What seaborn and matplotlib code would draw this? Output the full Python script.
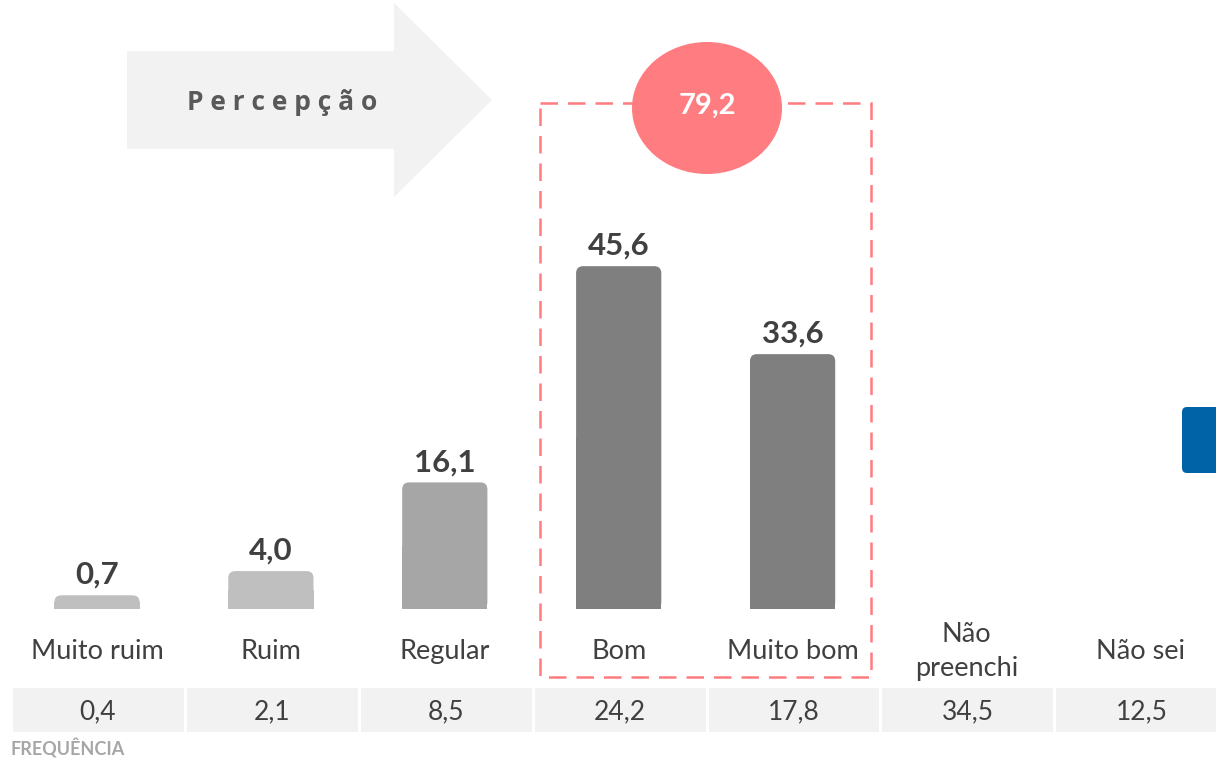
import numpy as np
import pandas as pd
import matplotlib
matplotlib.use("Agg")
import matplotlib.pyplot as plt
import seaborn as sns
from matplotlib.patches import FancyBboxPatch, Rectangle, Polygon, Ellipse
from matplotlib.colors import ListedColormap

# dados
categories = ["Muito ruim", "Ruim", "Regular", "Bom", "Muito bom", "Não\npreenchi", "Não sei"]
percepcao = [0.7, 4.0, 16.1, 45.6, 33.6, np.nan, np.nan]
frequencia = [0.4, 2.1, 8.5, 24.2, 17.8, 34.5, 12.5]
bar_colors = ["#bfbfbf", "#bfbfbf", "#a6a6a6", "#7f7f7f", "#7f7f7f", "#7f7f7f", "#7f7f7f"]
destaque = ["Bom", "Muito bom"]

W, H = 1216, 761
COL_W = 173.9      # largura de cada coluna em px
X0 = 97            # centro da primeira coluna em px
BASE_PX = 609      # linha de base das barras (px a partir do topo)
PX_PER_UNIT = 7.33
BASE_OFF = -1.17   # as barras arredondadas começam um pouco abaixo do zero

TEXT = "#404040"
PINK = "#ff7c80"


def br(v):
    return f"{v:.1f}".replace(".", ",")


def main():
    sns.set_theme(style="white")
    plt.rcParams["font.family"] = ["Lato", "DejaVu Sans"]

    fig = plt.figure(figsize=(W / 100, H / 100), dpi=100)

    # camada de fundo em pixels
    bg = fig.add_axes([0, 0, 1, 1])
    bg.set_xlim(0, W)
    bg.set_ylim(H, 0)
    bg.axis("off")

    arrow = [(127, 51), (394, 51), (394, 3), (492, 100), (394, 197), (394, 149), (127, 149)]
    bg.add_patch(Polygon(arrow, closed=True, fc="#f2f2f2", ec="none"))
    bg.text(282, 102, " ".join("Percepção"), ha="center", va="center",
            fontsize=19, fontweight="bold", color="#595959", family=["Open Sans", "DejaVu Sans"])

    bg.add_patch(Rectangle((540, 103), 331, 574, fill=False, ec=PINK, lw=1.8,
                           ls=(0, (7, 4)), zorder=2))
    bg.add_patch(Ellipse((707, 108), 150, 132, fc=PINK, ec="none", zorder=3))
    idx = [categories.index(c) for c in destaque]
    total = round(sum(percepcao[i] for i in idx), 1)
    bg.text(707, 106, br(total), ha="center", va="center", fontsize=21,
            fontweight="bold", color="white", zorder=4)

    bg.add_patch(FancyBboxPatch((1182, 407), 60, 66, boxstyle="round,pad=0,rounding_size=5",
                                fc="#0063a8", ec="none"))

    # barras
    ax = fig.add_axes([0, (H - BASE_PX) / H, 1, BASE_PX / H])
    ax.patch.set_alpha(0)
    df = pd.DataFrame({"categoria": categories, "valor": percepcao})
    palette = dict(zip(categories, bar_colors))
    sns.barplot(data=df, x="categoria", y="valor", hue="categoria", order=categories,
                palette=palette, legend=False, width=0.49, saturation=1, ax=ax)
    ax.set_xlim(-X0 / COL_W, (W - X0) / COL_W)
    ax.set_ylim(BASE_OFF, BASE_OFF + BASE_PX / PX_PER_UNIT)

    aspect = COL_W / PX_PER_UNIT
    r = 7 / COL_W
    for p in list(ax.patches):
        h = p.get_height()
        if not np.isfinite(h) or h == 0:
            p.remove()
            continue
        x, w, fc = p.get_x(), p.get_width(), p.get_facecolor()
        p.remove()
        ax.add_patch(FancyBboxPatch((x, BASE_OFF), w, h - BASE_OFF,
                                    boxstyle=f"round,pad=0,rounding_size={r}",
                                    mutation_aspect=aspect, fc=fc, ec="none"))
        ax.add_patch(Rectangle((x, BASE_OFF), w, (h - BASE_OFF) / 2, fc=fc, ec="none"))

    for i, v in enumerate(percepcao):
        if np.isfinite(v):
            ax.annotate(br(v), (i, v), xytext=(0, 4.5), textcoords="offset points",
                        ha="center", va="bottom", fontsize=22.5, fontweight="bold", color=TEXT)

    ax.set_xticks(range(len(categories)), categories)
    ax.tick_params(axis="x", length=0, pad=30.5, labelsize=19.5, labelcolor=TEXT)
    for lab in ax.get_xticklabels():
        lab.set_va("center")
        lab.set_linespacing(1.45)
    ax.set_yticks([])
    ax.set_xlabel("")
    ax.set_ylabel("")
    sns.despine(ax=ax, left=True, bottom=True)

    # linha de frequência
    ax3 = fig.add_axes([11 / W, (H - 733) / H, 7 * COL_W / W, 47 / H])
    sns.heatmap(np.array([frequencia]), annot=np.array([[br(v) for v in frequencia]]), fmt="",
                cmap=ListedColormap(["#f2f2f2"]), cbar=False, linewidths=1.8, linecolor="white",
                xticklabels=False, yticklabels=False,
                annot_kws={"fontsize": 19, "color": TEXT, "va": "center_baseline"}, ax=ax3)

    fig.text(10 / W, 1 - 748 / H, "FREQUÊNCIA", ha="left", va="center",
             fontsize=13, fontweight="bold", color="#a6a6a6")

    fig.savefig("out.png", dpi=100)
    plt.close(fig)


if __name__ == "__main__":
    main()
